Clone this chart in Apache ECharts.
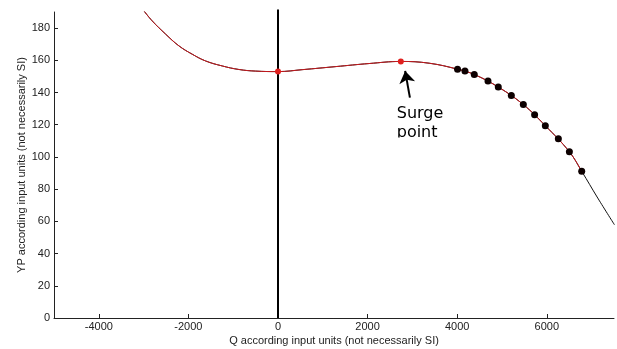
<!DOCTYPE html>
<html>
<head>
<meta charset="utf-8">
<script src="https://cdn.jsdelivr.net/npm/echarts@6/dist/echarts.min.js"></script>
<style>
  html, body { margin: 0; padding: 0; background: #fff; }
  #main { width: 617px; height: 349px; }
</style>
</head>
<body>
<div id="main"></div>
<script>
// curve (Q, YP)
var qCurve = [-2995, -2809, -2510, -2213, -1915, -1616, -1245, -872, -498, 0, 543, 1290, 2034, 2742, 3375, 4007, 4381, 4917, 5476, 5967, 6504, 6779, 7137, 7510];
var ypCurve = [190.8, 184.5, 176.3, 169.0, 163.8, 159.6, 156.5, 154.3, 153.3, 153.0, 154.2, 156.1, 158.0, 159.3, 158.2, 154.5, 151.2, 143.4, 132.5, 119.4, 103.2, 91.1, 74.5, 57.9];
// red part of the curve stops at the last operating point
var redEnd = 6779;

// operating points (black dots)
var qOp = [4007, 4173, 4381, 4687, 4917, 5208, 5476, 5728, 5967, 6258, 6504, 6779];
var ypOp = [154.5, 153.4, 151.2, 147.2, 143.4, 138.1, 132.5, 126.2, 119.4, 111.3, 103.2, 91.1];

// red points: Q = 0 and surge point
var qRed = [0, 2742];
var ypRed = [153.0, 159.3];

// vertical line at Q = 0
var qZero = 0;
var zeroTop = 191.5;

var xTicks = [-4000, -2000, 0, 2000, 4000, 6000];
var yTicks = [0, 20, 40, 60, 80, 100, 120, 140, 160, 180];

function pairs(xs, ys) {
    var out = [];
    for (var i = 0; i < xs.length; i++) {
        out.push([xs[i], ys[i]]);
    }
    return out;
}

var curveAll = pairs(qCurve, ypCurve);
var curveRed = curveAll.filter(function (p) { return p[0] <= redEnd; });

var myChart = echarts.init(document.getElementById('main'));

var axisFont = { color: '#222', fontSize: 11, fontFamily: 'Liberation Sans, Arial, sans-serif' };

var option = {
    animation: false,
    grid: { left: 54, right: 3, top: 12, bottom: 31, outerBoundsMode: 'none', containLabel: false },
    xAxis: {
        type: 'value',
        min: -5000,
        max: 7500,
        name: 'Q according input units (not necessarily SI)',
        nameLocation: 'middle',
        nameGap: 17,
        nameMoveOverlap: false,
        nameTextStyle: axisFont,
        axisLine: { show: true, onZero: false, lineStyle: { color: '#222', width: 1 } },
        axisTick: { show: true, inside: true, length: 4, customValues: xTicks, lineStyle: { color: '#222' } },
        axisLabel: Object.assign({ customValues: xTicks, margin: 3, formatter: function (v) { return String(v); } }, axisFont),
        splitLine: { show: false }
    },
    yAxis: {
        type: 'value',
        min: 0,
        max: 190,
        name: 'YP according input units (not necessarily SI)',
        nameLocation: 'middle',
        nameGap: 27,
        nameMoveOverlap: false,
        nameTextStyle: axisFont,
        axisLine: { show: true, onZero: false, lineStyle: { color: '#222', width: 1 } },
        axisTick: { show: true, inside: true, length: 4, customValues: yTicks, lineStyle: { color: '#222' } },
        axisLabel: Object.assign({ customValues: yTicks, margin: 4, formatter: function (v) { return String(v); } }, axisFont),
        splitLine: { show: false }
    },
    series: [
        {
            name: 'zero',
            type: 'line',
            data: [[qZero, 0], [qZero, zeroTop]],
            symbol: 'none',
            clip: false,
            lineStyle: { color: '#000', width: 2 },
            z: 1
        },
        {
            name: 'curve',
            type: 'line',
            data: curveAll,
            smooth: 0.4,
            symbol: 'none',
            lineStyle: { color: '#111', width: 1 },
            z: 2
        },
        {
            name: 'curveRed',
            type: 'line',
            data: curveRed,
            smooth: 0.4,
            symbol: 'none',
            lineStyle: { color: '#c8191e', width: 1 },
            z: 3,
            markLine: {
                silent: true,
                symbol: ['none', 'arrow'],
                symbolSize: 12,
                label: { show: false },
                lineStyle: { color: '#000', width: 2, type: 'solid' },
                data: [[{ coord: [2944, 136.8] }, { coord: [2838, 153.4] }]]
            }
        },
        {
            name: 'op',
            type: 'scatter',
            data: pairs(qOp, ypOp),
            symbol: 'circle',
            symbolSize: 7,
            itemStyle: { color: '#0d0000', opacity: 1 },
            z: 4
        },
        {
            name: 'red',
            type: 'scatter',
            data: pairs(qRed, ypRed),
            symbol: 'circle',
            symbolSize: 6,
            itemStyle: { color: '#e0201e', opacity: 1 },
            z: 5
        }
    ]
};
myChart.setOption(option);

// "Surge point" note below the arrow
var txtPos = myChart.convertToPixel({ gridIndex: 0 }, [2650, 132.5]);
myChart.setOption({
    graphic: [
        {
            type: 'text',
            left: txtPos[0],
            top: txtPos[1],
            style: {
                text: 'Surge\npoint',
                font: '16px "DejaVu Sans", Verdana, sans-serif',
                lineHeight: 19,
                fill: '#000'
            },
            z: 10
        },
        {
            type: 'rect',
            shape: { x: txtPos[0] - 4, y: txtPos[1] + 33, width: 60, height: 8 },
            style: { fill: '#fff' },
            z: 11
        }
    ]
});
</script>
</body>
</html>
